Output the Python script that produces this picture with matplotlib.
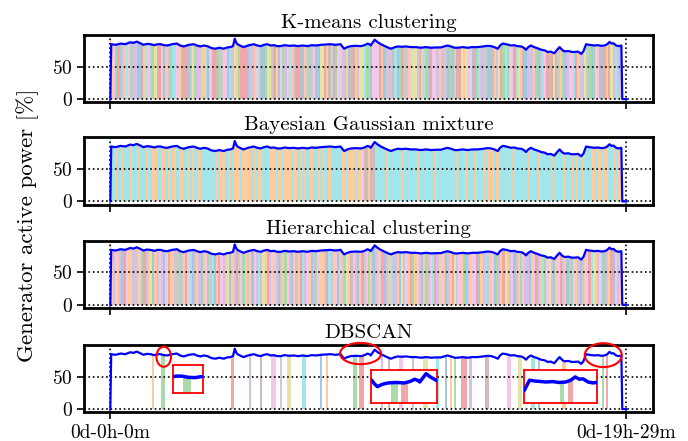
import numpy as np
import matplotlib
matplotlib.use('Agg')
import matplotlib.pyplot as plt
from matplotlib.patches import Ellipse

plt.rcParams['font.family'] = ['cmr10', 'DejaVu Serif']
plt.rcParams['mathtext.fontset'] = 'cm'
plt.rcParams['axes.formatter.use_mathtext'] = True

# generator active power [%], time in minutes
minutes = [0, 2, 12, 23, 34, 45, 52, 60, 68, 75, 83, 91, 100, 107, 114, 121, 129,
           140, 151, 158, 166, 178, 189, 196, 204, 212, 220, 229, 238, 247, 257,
           265, 272, 278, 282, 285, 288, 295, 302, 312, 325, 333, 341, 348, 356,
           363, 371, 378, 386, 395, 405, 416, 425, 436, 447, 456, 466, 477, 488,
           499, 510, 522, 526, 530, 537, 545, 556, 568, 576, 583, 588, 590, 594,
           599, 605, 613, 622, 630, 636, 643, 651, 660, 670, 681, 692, 704, 715,
           727, 738, 749, 756, 764, 772, 780, 787, 798, 810, 820, 832, 845, 855,
           863, 870, 878, 883, 889, 897, 908, 915, 922, 931, 936, 942, 947, 953,
           960, 967, 976, 984, 991, 998, 1006, 1012, 1018, 1024, 1029, 1038, 1045,
           1052, 1060, 1067, 1072, 1078, 1085, 1092, 1097, 1105, 1112, 1120, 1126,
           1131, 1136, 1140, 1146, 1152, 1158, 1160, 1169]
power = [0, 85, 84, 86, 85, 88, 87, 89, 86.5, 84, 85.5, 85, 83.5, 85, 85, 83.5, 83,
         85, 86, 83, 81.5, 84, 85, 83, 81.5, 83, 82, 79, 78, 79.5, 78,
         80, 80.5, 82, 93.5, 88, 85, 82.5, 80.5, 83, 85, 83, 82, 84, 85,
         83, 83.5, 82, 82, 83.5, 82.5, 83, 82, 83, 82, 83.5, 83, 84, 84.5,
         85, 84, 85, 81, 78, 80.5, 82, 82.5, 82, 83.5, 86, 84.5, 83, 87,
         92, 88.5, 85, 82, 79.5, 78, 80, 81.5, 81, 81.5, 80.5, 80.5, 79.5, 80.5,
         79.5, 80, 80, 81.5, 83, 81.5, 79.5, 79.5, 80.5, 79.5, 80.5, 80.5, 81.5, 82.5,
         82, 80.5, 78, 83, 86, 85, 83, 83.5, 82, 81.5, 80, 76.5, 80.5, 83,
         80.5, 79, 76.5, 75.5, 73, 73.5, 71, 76, 80.5, 76, 74, 74.5, 73,
         73, 73.5, 70, 74, 85, 84, 83.5, 83, 83.5, 82.5, 83, 85,
         88.5, 86, 86.5, 83, 82, 83, 0, 0]

# cluster label of each 5-minute window (tab10 colour index)
kmeans_labels = ("1623041962" "4400319672" "8336014299" "6153307824" "4119063352"
                 "7660948123" "3304416950" "2887310624" "6914335017" "2460088315"
                 "9326647105" "3148892206" "6631074459" "0237716884" "5192036641"
                 "4470259338" "1866032947" "7005148329" "2663981504" "4412079635"
                 "3857120466" "9314487202" "6650313849" "47")
bayes_labels = ("99199199919919991991199" "1191911" "91199191991" "9999999"
                "191199191" "1191111" "919119991" "11911911191191"
                "9191199191991" "99999" "119111911" "6551559"
                "9999199999919999991999999919999999" "9919991999199919" "111911"
                "9999919999991999919999919999" "91991919919991" "1911911991911")
hier_labels = ("1461403611" "4716234180" "1464063114" "7241369041" "4016249013"
               "6418014376" "2141064948" "1346140712" "6401413946" "1042611739"
               "4160142815" "6401346210" "4163041974" "1084613216" "4012469341"
               "6104138461" "2041663014" "9416024138" "1460412644" "0163419268"
               "4016341072" "6140416398" "1460241306" "41")
n_windows = 232
dbscan_windows = [19, 23, 24, 55, 63, 68, 73, 74, 77, 80, 81, 87, 88, 95, 98,
                  110, 111, 113, 114, 123, 126, 131, 132, 137, 142, 143, 148,
                  152, 154, 156, 159, 160, 161, 163, 170, 171, 180, 181, 185, 186,
                  191, 192, 194, 205, 206, 223, 225]
dbscan_labels = [1, 2, 2, 3, 4, 5, 6, 6, 7, 8, 8, 9, 9, 0, 1,
                 2, 2, 3, 3, 4, 5, 6, 6, 7, 8, 8, 9,
                 0, 1, 2, 3, 3, 3, 4, 5, 5, 6, 6, 8, 8,
                 9, 9, 0, 1, 1, 2, 3]

titles = ['K-means clustering', 'Bayesian Gaussian mixture',
          'Hierarchical clustering', 'DBSCAN']
tick_pos = [0, 1169]
tick_labels = ['0d-0h-0m', '0d-19h-29m']
t_end = 1158

# zoomed regions of the DBSCAN panel
zoom_xlims = [(104, 138), (521, 614), (1072, 1156)]
zoom_ylims = [(62, 100), (60, 96), (60, 96)]
zoom_rects = [[0.2519, 0.1082, 0.0427, 0.0642],
              [0.5392, 0.0855, 0.0955, 0.0755],
              [0.7621, 0.0855, 0.1052, 0.0755]]
ellipses = [(121, 81, 33, 31), (567, 86, 93, 33), (1117, 83.5, 84, 37)]

colors = plt.get_cmap('tab10').colors


def draw_panel(ax, labels, lw=1.6):
    edges = np.linspace(0, t_end, len(labels) + 1)
    idx = [i for i, l in enumerate(labels) if l is not None]
    ax.bar(edges[idx], 150, width=np.diff(edges)[idx], bottom=0, align='edge',
           color=[colors[labels[i]] for i in idx], alpha=0.4, lw=0, zorder=1)
    ax.fill_between(minutes, power, 150, color='white', lw=0, zorder=1.5)
    ax.plot(minutes, power, color='blue', lw=lw, zorder=3)


dbscan = [None] * n_windows
for w, l in zip(dbscan_windows, dbscan_labels):
    dbscan[w] = l
all_labels = [[int(c) for c in kmeans_labels], [int(c) for c in bayes_labels],
              [int(c) for c in hier_labels], dbscan]

fig = plt.figure(figsize=(6.88, 4.41), dpi=100)
bottoms = [0.768, 0.536, 0.3016, 0.0651]
axes = []
for k in range(4):
    ax = fig.add_axes([0.1225, bottoms[k], 0.8262, 0.153])
    draw_panel(ax, all_labels[k])
    ax.set_xlim(-59, 1229)
    ax.set_ylim(-5, 99.5)
    ax.set_yticks([0, 50])
    ax.set_xticks(tick_pos)
    if k == 3:
        ax.set_xticklabels(tick_labels)
    else:
        ax.set_xticklabels([])
    ax.grid(True, ls=':', color='k', lw=1.2)
    ax.set_axisbelow(False)
    ax.set_title(titles[k], fontsize=15, pad=5)
    ax.tick_params(direction='out', length=5, width=1.2, labelsize=14)
    for s in ax.spines.values():
        s.set_linewidth(2)
    axes.append(ax)

ax = axes[3]
for (cx, cy, w, h) in ellipses:
    ax.add_patch(Ellipse((cx, cy), w, h, fill=False, ec='red', lw=1.5,
                         clip_on=False, zorder=5))

for rect, xl, yl in zip(zoom_rects, zoom_xlims, zoom_ylims):
    ins = fig.add_axes(rect)
    draw_panel(ins, dbscan, lw=2.5)
    ins.set_xlim(*xl)
    ins.set_ylim(*yl)
    ins.set_xticks([])
    ins.set_yticks([])
    for s in ins.spines.values():
        s.set_color('red')
        s.set_linewidth(1.3)

fig.text(0.04, 0.49, 'Generator active power [%]', rotation=90,
         va='center', ha='center', fontsize=16.5)

fig.savefig('out.png', dpi=100)
